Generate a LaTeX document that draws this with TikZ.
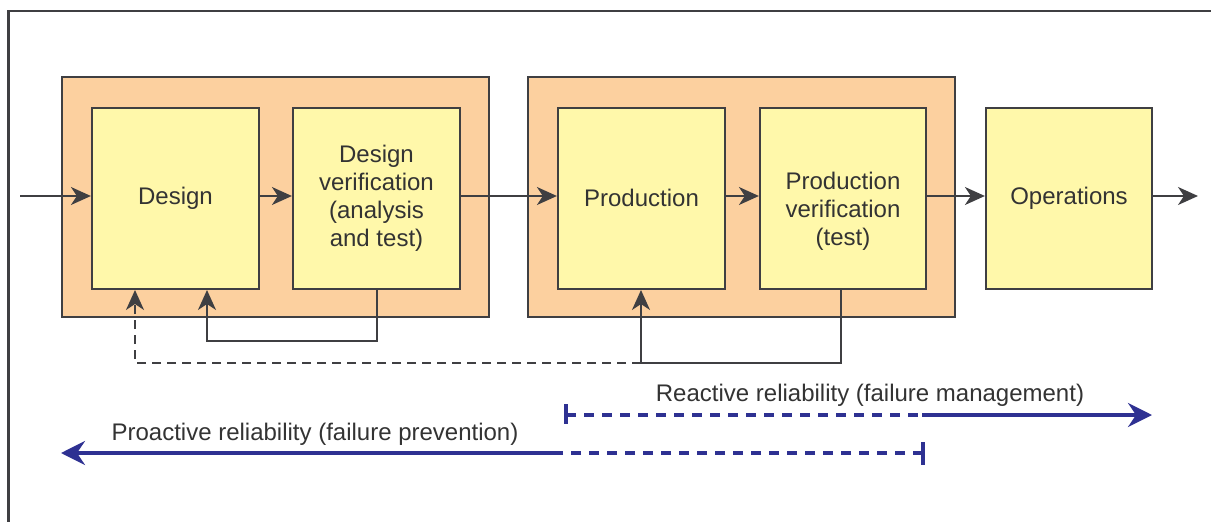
\documentclass[tikz,border=0pt]{standalone}
\usepackage{fontspec}
\setmainfont{Liberation Sans}
\usetikzlibrary{arrows.meta}
\definecolor{orng}{HTML}{FCD09F}
\definecolor{ylw}{HTML}{FFF8AA}
\definecolor{edge}{HTML}{3F3F42}
\definecolor{txt}{HTML}{333333}
\definecolor{blu}{HTML}{2E3192}
\begin{document}
\begin{tikzpicture}[x=1pt,y=-1pt,
  font=\fontsize{24}{28}\selectfont, text=txt,
  group/.style={draw=edge, line width=2.2pt, fill=orng},
  stage/.style={draw=edge, line width=2.2pt, fill=ylw, align=center, inner sep=0pt},
  flow/.style={draw=edge, line width=2pt, -{Stealth[length=20pt,width=18pt,inset=6pt]}},
  bl/.style={draw=blu, line width=3.4pt},
  bltip/.style={-{Stealth[length=24pt,width=24pt,inset=8pt]}},
  lbl/.style={inner sep=0pt, anchor=base, align=center}
]
\useasboundingbox (0,0) rectangle (1211,522);
\draw[edge, line width=2.2pt] (8.5,530) -- (8.5,11) -- (1220,11);
% groups
\draw[group] (62,77) rectangle (489,317);
\draw[group] (528,77) rectangle (955,317);
% stages
\node[stage, minimum width=167pt, minimum height=181pt] (design) at (175.5,198.5) {Design};
\node[stage, minimum width=167pt, minimum height=181pt] (dv) at (376.5,198.5) {Design\\verification\\(analysis\\and test)};
\node[stage, minimum width=167pt, minimum height=181pt] (prod) at (641.5,198.5) {};
\node[lbl, anchor=center] (prodtext) at (641.5,197.5) {Production};
\node[stage, minimum width=166pt, minimum height=181pt] (pv) at (843,198.5) {};
\node[lbl, anchor=center] (pvtext) at (843,211) {Production\\verification\\(test)};
\node[stage, minimum width=166pt, minimum height=181pt] (ops) at (1069,198.5) {Operations};
% main flow
\coordinate (in) at (20,196);
\coordinate (out) at (1198,196);
\draw[flow] (in) -- (design.west |- in);
\draw[flow] (design.east |- in) -- (dv.west |- in);
\draw[flow] (dv.east |- in) -- (prod.west |- in);
\draw[flow] (prod.east |- in) -- (pv.west |- in);
\draw[flow] (pv.east |- in) -- (ops.west |- in);
\draw[flow] (ops.east |- in) -- (out);
% feedback loops
\coordinate (dvb) at (377,290);
\coordinate (dsb) at (207,290);
\draw[flow] (dvb) -- (377,341) -- (207,341) -- (dsb);
\coordinate (pvb) at (841,290);
\coordinate (prb) at (641,290);
\draw[flow] (pvb) -- (841,363) -- (641,363) -- (prb);
\coordinate (dsb2) at (135,290);
\draw[flow, dashed, dash pattern=on 9pt off 6pt] (641,363) -- (135,363) -- (dsb2);
% reactive
\node[lbl] (rlab) at (870,401) {Reactive reliability (failure management)};
\coordinate (r0) at (566,415);
\coordinate (r1) at (922,415);
\coordinate (r2) at (1152,415);
\draw[bl] (566,404) -- (566,424);
\draw[bl, dashed, dash pattern=on 10pt off 8pt] (r0) -- (r1);
\draw[bl, bltip] (r1) -- (r2);
% proactive
\node[lbl] (plab) at (315,440) {Proactive reliability (failure prevention)};
\coordinate (p0) at (923,453);
\coordinate (p1) at (562,453);
\coordinate (p2) at (61,453);
\draw[bl] (923,442) -- (923,465);
\draw[bl, dashed, dash pattern=on 10pt off 8pt] (p0) -- (p1);
\draw[bl, bltip] (p1) -- (p2);
\end{tikzpicture}
\end{document}
